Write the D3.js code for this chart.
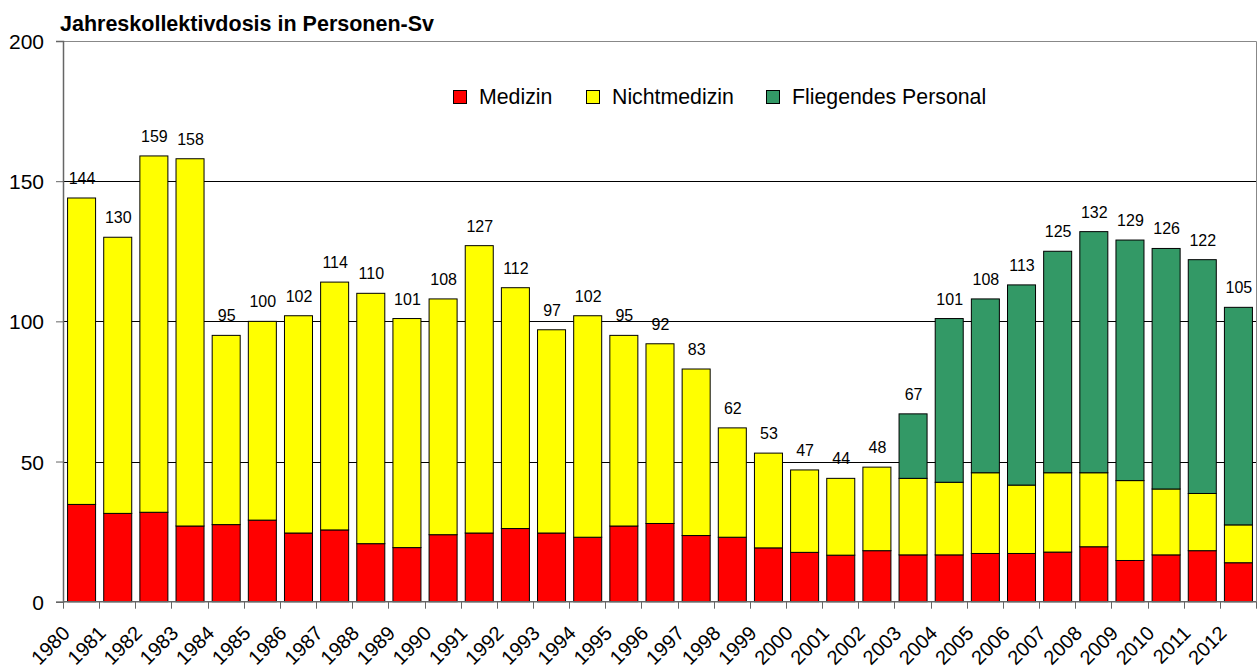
<!DOCTYPE html>
<html>
<head>
<meta charset="utf-8">
<script src="https://cdn.jsdelivr.net/npm/d3@7"></script>
<style>
  html, body { margin: 0; padding: 0; background: #fff; }
  svg { display: block; font-family: "Liberation Sans", Arial, sans-serif; }
</style>
</head>
<body>
<svg id="chart" width="1257" height="668"></svg>
<script>
const years = ["1980","1981","1982","1983","1984","1985","1986","1987","1988","1989","1990","1991","1992","1993","1994","1995","1996","1997","1998","1999","2000","2001","2002","2003","2004","2005","2006","2007","2008","2009","2010","2011","2012"];
const medizin = [34.7,31.5,31.9,27.0,27.5,29.1,24.5,25.6,20.7,19.3,23.9,24.5,26.1,24.5,23.0,27.0,27.9,23.6,23.0,19.2,17.6,16.6,18.2,16.7,16.7,17.2,17.2,17.7,19.6,14.7,16.7,18.2,13.9];
const nichtmedizin = [109.3,98.5,127.1,131.0,67.5,70.9,77.5,88.4,89.3,81.7,84.1,102.5,85.9,72.5,79.0,68.0,64.1,59.4,39.0,33.8,29.4,27.4,29.8,27.3,25.9,28.8,24.4,28.3,26.4,28.5,23.5,20.4,13.5];
const fliegend = [0,0,0,0,0,0,0,0,0,0,0,0,0,0,0,0,0,0,0,0,0,0,0,23.0,58.4,62.0,71.4,79.0,86.0,85.8,85.8,83.4,77.6];
const seriesNames = ["Medizin","Nichtmedizin","Fliegendes Personal"];
const seriesColors = ["#FF0000","#FFFF00","#339966"];
const yTicks = [0,50,100,150,200];
const title = "Jahreskollektivdosis in Personen-Sv";

(function(){
const rows = years.map((yr,i)=>({year:yr, Medizin:medizin[i], Nichtmedizin:nichtmedizin[i], "Fliegendes Personal":fliegend[i]}));

const svg = d3.select("#chart");
const pLeft = 63, pRight = 1256, pTop = 41, pBottom = 601.7;

const x = d3.scaleBand().domain(years).range([pLeft,pRight]).paddingInner(0.225).paddingOuter(0.1125);
const y = d3.scaleLinear().domain([0,200]).range([pBottom, pTop]);

// gridlines
svg.append("g").selectAll("line").data(yTicks.filter(v=>v>0 && v<200)).join("line")
  .attr("x1", pLeft).attr("x2", pRight)
  .attr("y1", d=>Math.round(y(d))+0.5).attr("y2", d=>Math.round(y(d))+0.5)
  .attr("stroke", "#000").attr("stroke-width", 1);

// plot border (top and right)
svg.append("path")
  .attr("d", `M${pLeft},${Math.round(y(200))+0.5}H${pRight+0.5}V${pBottom}`)
  .attr("fill","none").attr("stroke","#888").attr("stroke-width",1);

// bars
const stacked = d3.stack().keys(seriesNames)(rows);
svg.append("g").selectAll("g").data(stacked).join("g")
  .attr("fill", (d,i)=>seriesColors[i])
  .selectAll("rect").data(d=>d.filter(s=>s[1]-s[0]>0)).join("rect")
  .attr("x", d=>x(d.data.year)+0.5)
  .attr("width", x.bandwidth())
  .attr("y", d=>y(d[1]))
  .attr("height", d=>y(d[0])-y(d[1]))
  .attr("stroke","#000").attr("stroke-width",1);

// value labels
const totals = rows.map(r=>seriesNames.reduce((s,k)=>s+r[k],0));
svg.append("g").selectAll("text").data(rows).join("text")
  .attr("x", (d)=>x(d.year)+x.bandwidth()/2+1)
  .attr("y", (d,i)=>y(totals[i])-14)
  .attr("text-anchor","middle")
  .attr("font-size", 16)
  .attr("fill","#000")
  .text((d,i)=>d3.format(".0f")(totals[i]));

// y axis
const yAxis = d3.axisLeft(y).tickValues(yTicks).tickSize(7).tickPadding(12).tickFormat(d3.format("d"));
const yg = svg.append("g").attr("transform", `translate(${pLeft},0)`).call(yAxis);
yg.select(".domain").attr("stroke","#666").attr("stroke-width",1.5);
yg.selectAll(".tick line").attr("stroke","#666");
yg.selectAll(".tick text").attr("font-size",21).attr("fill","#000").attr("font-family","Liberation Sans, Arial, sans-serif").attr("dy","0.36em");

// x axis line
svg.append("line").attr("x1",pLeft).attr("x2",pRight+0.5).attr("y1",pBottom).attr("y2",pBottom)
  .attr("stroke","#666").attr("stroke-width",1.5);
// category boundary ticks
const half = x.step()*x.paddingInner()/2;
const bounds = years.map(yr=>x(yr)-half).concat([x(years[years.length-1])+x.bandwidth()+half]);
svg.append("g").selectAll("line").data(bounds).join("line")
  .attr("x1", d=>Math.round(d)+0.5).attr("x2", d=>Math.round(d)+0.5)
  .attr("y1", pBottom).attr("y2", pBottom+7)
  .attr("stroke","#666").attr("stroke-width",1);

// year labels
svg.append("g").selectAll("text").data(years).join("text")
  .attr("transform", d=>`translate(${x(d)+x.bandwidth()/2-10},634.5) rotate(-45)`)
  .attr("text-anchor","end")
  .attr("font-size",20)
  .attr("fill","#000")
  .text(d=>d);

// title
svg.append("text").attr("x",60).attr("y",31).attr("font-size",21.5).attr("font-weight","bold").attr("fill","#000").text(title);

// legend
const legendX = [453, 586, 766];
const lg = svg.append("g").selectAll("g").data(seriesNames).join("g")
  .attr("transform",(d,i)=>`translate(${legendX[i]},90)`);
lg.append("rect").attr("x",0.5).attr("y",0.5).attr("width",13).attr("height",13)
  .attr("fill",(d,i)=>seriesColors[i]).attr("stroke","#000").attr("stroke-width",1);
lg.append("text").attr("x",26).attr("y",13.5).attr("font-size",21.3).attr("fill","#000").text(d=>d);
})();
</script>
</body>
</html>
